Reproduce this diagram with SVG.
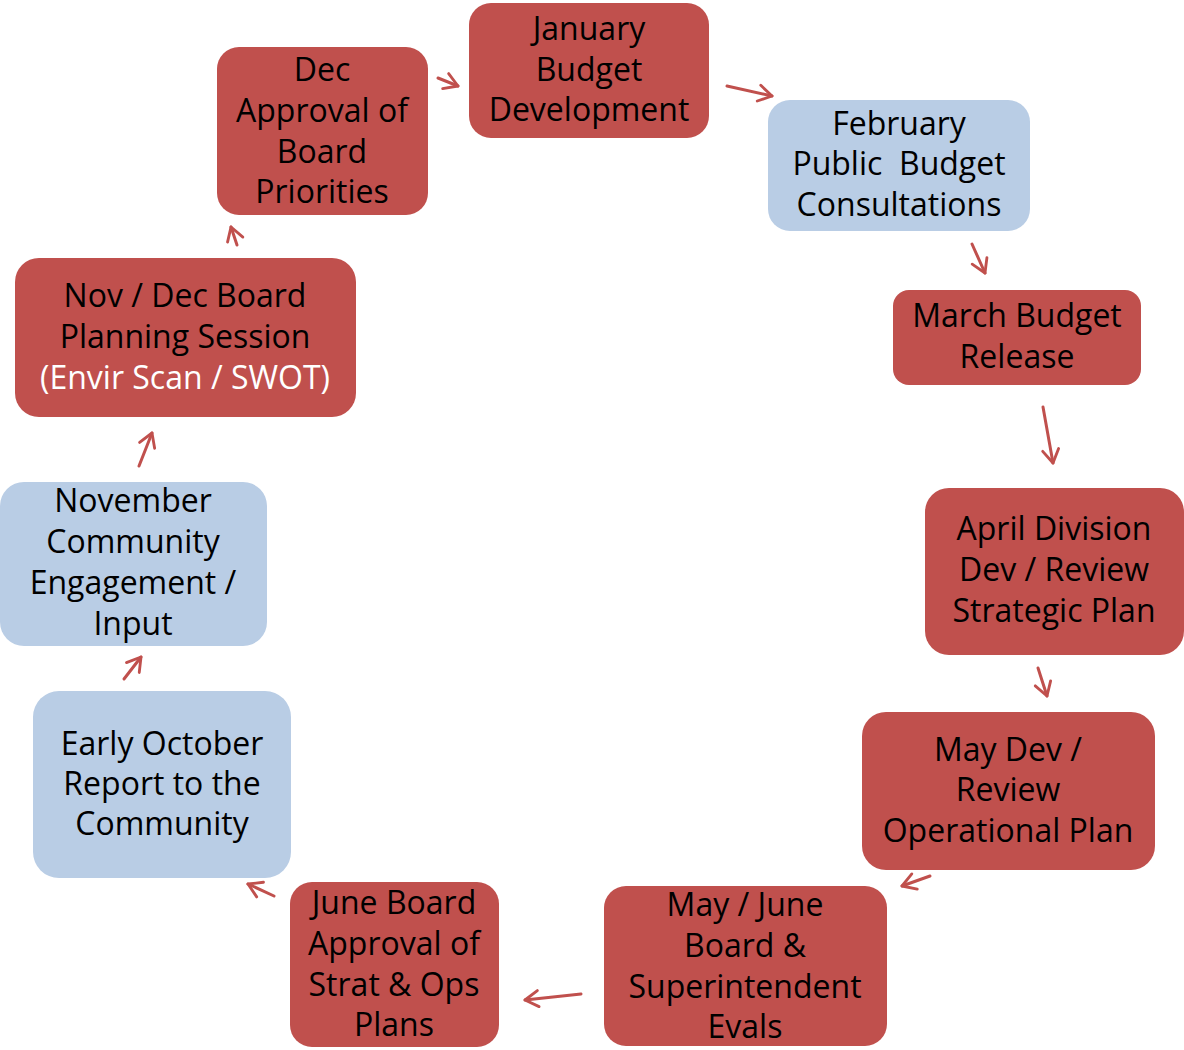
<svg xmlns="http://www.w3.org/2000/svg" width="1184" height="1050" viewBox="0 0 1184 1050">
<defs>
<style>
.r{fill:#C0504D}
.b{fill:#B9CDE5}
text{font-family:"Open Sans","Noto Sans",sans-serif;font-size:32px;fill:#000;text-anchor:middle}
.w{fill:#fff}
.pre{white-space:pre}
.c line{stroke:#C0504D;stroke-width:3;stroke-linecap:round;marker-end:url(#ah)}
</style>
<marker id="ah" viewBox="0 0 20 20" refX="17" refY="10" markerWidth="19" markerHeight="19" markerUnits="userSpaceOnUse" orient="auto" overflow="visible">
<path d="M3,1.5 L17,10 L3,18.5" fill="none" stroke="#C0504D" stroke-width="3" stroke-linecap="round" stroke-linejoin="round"/>
</marker>
</defs>
<rect width="1184" height="1050" fill="#fff"/>
<g id="dec"><rect class="r" x="217" y="47" width="211" height="168" rx="22"/>
<text x="322" y="81">Dec</text><text x="322" y="122">Approval of</text><text x="322" y="163">Board</text><text x="322" y="203">Priorities</text></g>
<g id="jan"><rect class="r" x="469" y="3" width="240" height="135" rx="22"/>
<text x="589" y="40">January</text><text x="589" y="81">Budget</text><text x="589" y="121">Development</text></g>
<g id="feb"><rect class="b" x="768" y="100" width="262" height="131" rx="22"/>
<text x="899" y="135">February</text><text class="pre" xml:space="preserve" x="899" y="175">Public  Budget</text><text x="899" y="216">Consultations</text></g>
<g id="mar"><rect class="r" x="893" y="290" width="248" height="95" rx="16"/>
<text x="1017" y="327">March Budget</text><text x="1017" y="368">Release</text></g>
<g id="apr"><rect class="r" x="925" y="488" width="259" height="167" rx="24"/>
<text x="1054" y="540">April Division</text><text x="1054" y="581">Dev / Review</text><text x="1054" y="622">Strategic Plan</text></g>
<g id="may"><rect class="r" x="862" y="712" width="293" height="158" rx="24"/>
<text x="1008" y="761">May Dev /</text><text x="1008" y="801">Review</text><text x="1008" y="842">Operational Plan</text></g>
<g id="mayjune"><rect class="r" x="604" y="886" width="283" height="160" rx="22"/>
<text x="745" y="916">May / June</text><text x="745" y="957">Board &amp;</text><text x="745" y="998">Superintendent</text><text x="745" y="1038">Evals</text></g>
<g id="june"><rect class="r" x="290" y="882" width="209" height="165" rx="22"/>
<text x="394" y="914">June Board</text><text x="394" y="955">Approval of</text><text x="394" y="996">Strat &amp; Ops</text><text x="394" y="1036">Plans</text></g>
<g id="oct"><rect class="b" x="33" y="691" width="258" height="187" rx="26"/>
<text x="162" y="755">Early October</text><text x="162" y="795">Report to the</text><text x="162" y="835">Community</text></g>
<g id="nov"><rect class="b" x="0" y="482" width="267" height="164" rx="24"/>
<text x="133" y="512">November</text><text x="133" y="553">Community</text><text x="133" y="594">Engagement /</text><text x="133" y="635">Input</text></g>
<g id="novdec"><rect class="r" x="15" y="258" width="341" height="159" rx="24"/>
<text x="185" y="307">Nov / Dec Board</text><text x="185" y="348">Planning Session</text><text class="w" x="185" y="389">(Envir Scan / SWOT)</text></g>
<g class="c" id="connectors">
<line x1="438" y1="78" x2="458" y2="86"/>
<line x1="727" y1="86" x2="772" y2="96"/>
<line x1="972" y1="244" x2="985" y2="273"/>
<line x1="1043" y1="407" x2="1053" y2="463"/>
<line x1="1038" y1="668" x2="1047" y2="696"/>
<line x1="930" y1="876" x2="902" y2="886"/>
<line x1="581" y1="994" x2="525" y2="1000"/>
<line x1="274" y1="896" x2="248" y2="884"/>
<line x1="124" y1="679" x2="141" y2="657"/>
<line x1="139" y1="466" x2="152" y2="433"/>
<line x1="237" y1="245" x2="231" y2="227"/>
</g>
</svg>
